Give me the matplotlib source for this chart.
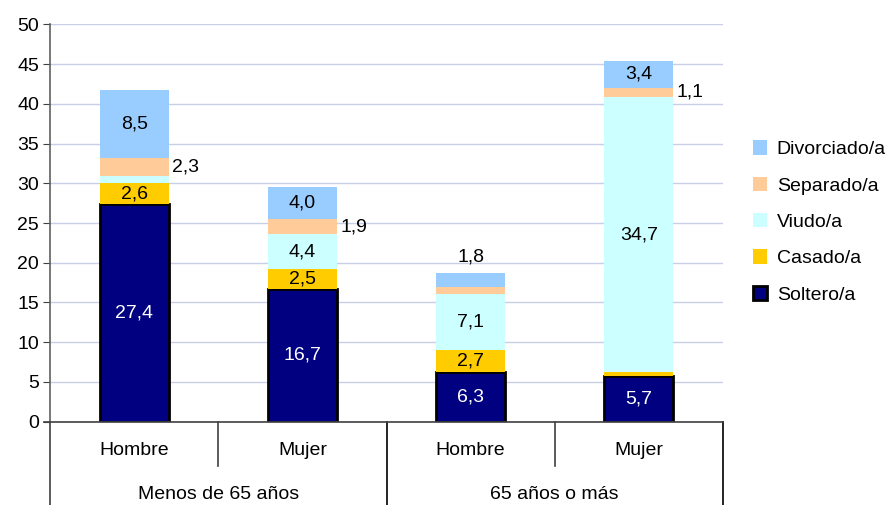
import matplotlib.pyplot as plt
import numpy as np

plt.rcParams['font.family'] = ['Liberation Sans', 'DejaVu Sans']

sexo = ['Hombre', 'Mujer', 'Hombre', 'Mujer']
grupos = ['Menos de 65 años', '65 años o más']
series = ['Soltero/a', 'Casado/a', 'Viudo/a', 'Separado/a', 'Divorciado/a']
soltero = [27.4, 16.7, 6.3, 5.7]
casado = [2.6, 2.5, 2.7, 0.5]
viudo = [0.9, 4.4, 7.1, 34.7]
separado = [2.3, 1.9, 0.8, 1.1]
divorciado = [8.5, 4.0, 1.8, 3.4]

colores = ['#000080', '#FFCC00', '#CCFFFF', '#FFCC99', '#99CCFF']
valores = [soltero, casado, viudo, separado, divorciado]

# how each label is placed: 'in', 'right', 'top' or None
pos_etiquetas = [
    ['in', 'in', 'in', 'in'],
    ['in', 'in', 'in', None],
    [None, 'in', 'in', 'in'],
    ['right', 'right', None, 'right'],
    ['in', 'in', 'top', 'in'],
]

fs = 14

fig = plt.figure(figsize=(8.86, 5.05), dpi=100)
ax = fig.add_axes([50 / 886, 1 - 421.7 / 505, 673 / 886, 397.4 / 505])

x = np.arange(len(sexo))
ancho = 0.41
base = np.zeros(len(sexo))
handles = []
for i, (nombre, vals, col) in enumerate(zip(series, valores, colores)):
    vals = np.array(vals)
    if i == 0:
        b = ax.bar(x, vals, ancho, bottom=base, color=col, edgecolor='black',
                   linewidth=2, label=nombre, zorder=3)
    else:
        b = ax.bar(x, vals, ancho, bottom=base, color=col, linewidth=0,
                   label=nombre, zorder=3)
    handles.append(b)
    for j in range(len(sexo)):
        modo = pos_etiquetas[i][j]
        if modo is None:
            continue
        txt = f'{vals[j]:.1f}'.replace('.', ',')
        yc = base[j] + vals[j] / 2
        tcol = 'white' if i == 0 else 'black'
        if modo == 'in':
            ax.text(x[j], yc, txt, ha='center', va='center', fontsize=fs,
                    color=tcol, zorder=4)
        elif modo == 'right':
            ax.text(x[j] + ancho / 2 + 0.02, yc, txt, ha='left', va='center',
                    fontsize=fs, color='black', zorder=4)
        else:
            ax.text(x[j], base[j] + vals[j] + 0.9, txt, ha='center',
                    va='bottom', fontsize=fs, color='black', zorder=4)
    base = base + vals

ax.set_xlim(-0.5, 3.5)
ax.set_ylim(0, 50)
ax.set_yticks(np.arange(0, 51, 5))
ax.tick_params(axis='y', labelsize=fs, length=5, color='#404040', pad=3)
ax.set_xticks([])
ax.yaxis.grid(True, color='#C8D0E6', linewidth=1)
ax.set_axisbelow(True)
for s in ['top', 'right', 'bottom']:
    ax.spines[s].set_visible(False)
ax.spines['left'].set_color('#606060')
ax.spines['left'].set_linewidth(1.2)

# category axis below the plot
h = 397.4
lc = '#404040'
tr = ax.get_xaxis_transform()
ax.plot([-0.5 - 6 / 168.3, 3.5], [0, 0], color=lc, lw=1.2, clip_on=False,
        zorder=5, transform=tr)
ax.plot([-0.5, -0.5], [0, -83.3 / h], color=lc, lw=1.2, clip_on=False,
        transform=tr)
for xs in [1.5, 3.5]:
    ax.plot([xs, xs], [0, -83.3 / h], color='black', lw=1.2, clip_on=False,
            transform=tr)
for xs in [0.5, 2.5]:
    ax.plot([xs, xs], [0, -44 / h], color=lc, lw=1.2, clip_on=False,
            transform=tr)
for j, s in enumerate(sexo):
    ax.text(x[j], -28.5 / h, s, ha='center', va='center', fontsize=fs,
            transform=tr)
for g, nombre in enumerate(grupos):
    ax.text(2 * g + 0.5, -72.5 / h, nombre, ha='center', va='center',
            fontsize=fs, transform=tr)

leg = fig.legend(handles[::-1], series[::-1], loc='center left',
                 bbox_to_anchor=(735 / 886, 1 - 222 / 505), frameon=False,
                 fontsize=fs, handlelength=0.75, handleheight=0.75,
                 handletextpad=0.5, labelspacing=0.95)

fig.savefig('out.png', dpi=100)
